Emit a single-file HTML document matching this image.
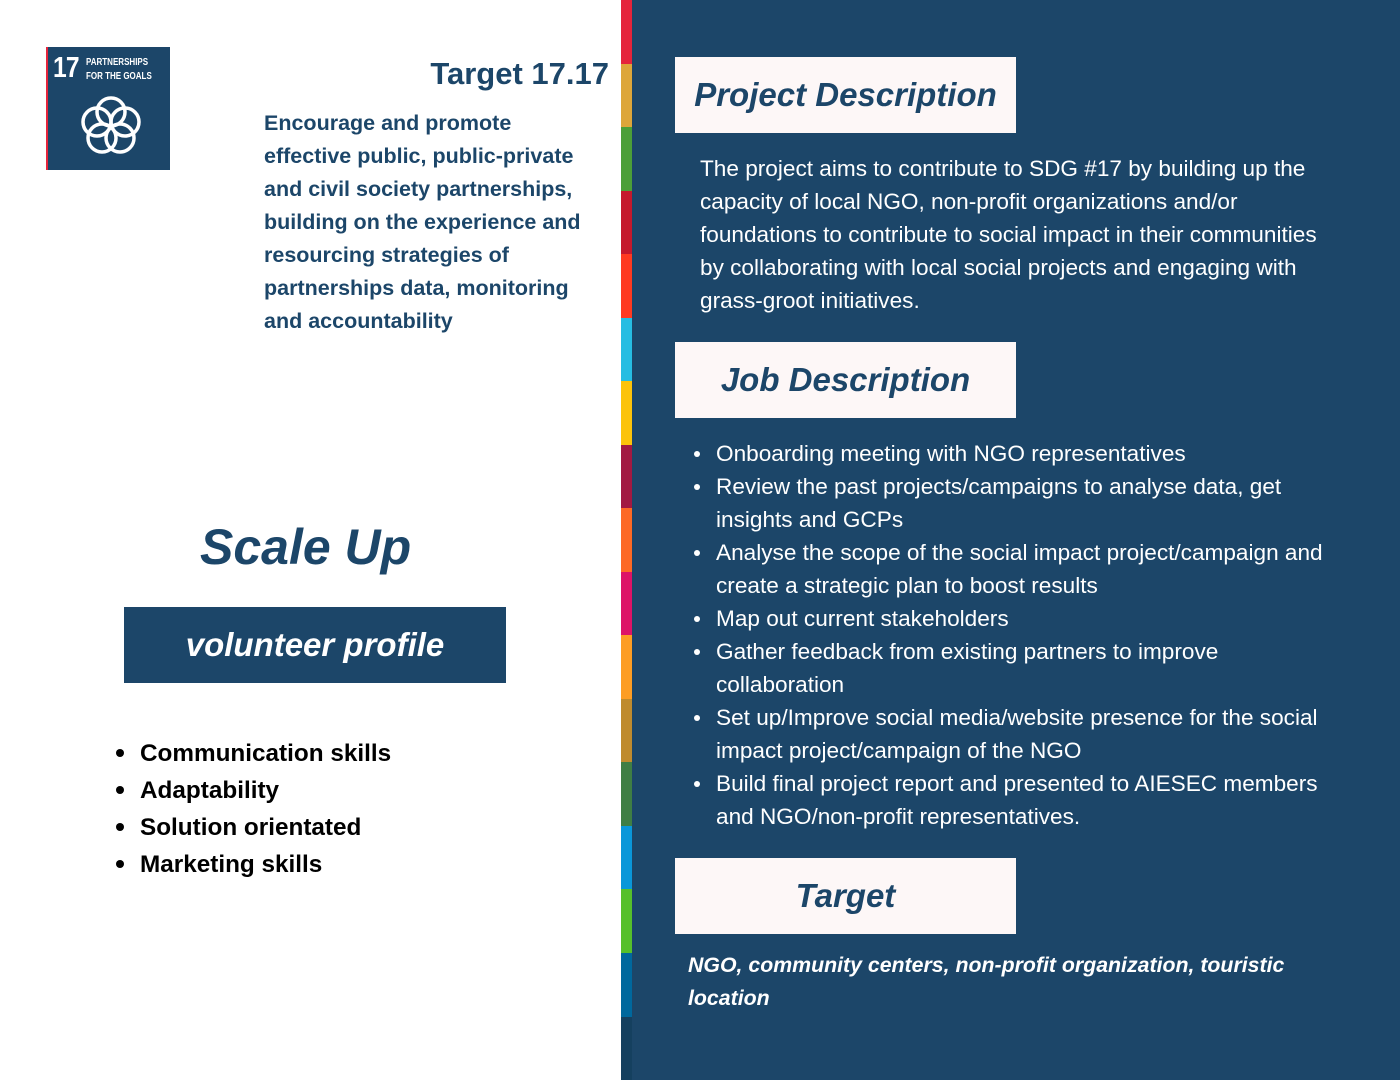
<!DOCTYPE html>
<html><head><meta charset="utf-8"><style>
*{margin:0;padding:0;box-sizing:border-box}
body{width:1400px;height:1080px;position:relative;background:#fff;font-family:"Liberation Sans",sans-serif;overflow:hidden}
.abs{position:absolute}
.nw{white-space:nowrap}
#right{left:632px;top:0;width:768px;height:1080px;background:#1c4669}
.box{left:675px;width:341px;height:76px;background:#fdf7f7;color:#1c4669;font-weight:bold;font-style:italic;font-size:33px;display:flex;align-items:center;justify-content:center}
.rt{color:#fff;font-size:22.6px;line-height:33px}
ul.rb{list-style:none}
ul.rb li{position:relative;padding-left:22px}
ul.rb li::before{content:"";position:absolute;left:0;top:14px;width:6px;height:6px;border-radius:50%;background:#fff}
ul.lb{list-style:none}
ul.lb li{position:relative;padding-left:24px}
ul.lb li::before{content:"";position:absolute;left:0;top:14px;width:8px;height:8px;border-radius:50%;background:#000}
</style></head><body>
<div class="abs" id="logo" style="left:46px;top:47px;width:124px;height:123px;background:#1c4669;border-left:2px solid #e5243b">
 <div class="abs" style="left:5px;top:5px;color:#fff;font-weight:bold;font-size:29px;letter-spacing:-1px;transform:scaleX(.85);transform-origin:left">17</div>
 <div class="abs nw" style="left:38px;top:9px;color:#fff;font-weight:bold;font-size:10px;line-height:14px;transform:scaleX(.8);transform-origin:left">PARTNERSHIPS<br>FOR THE GOALS</div>
 <svg class="abs" style="left:30px;top:46px" width="66" height="66" viewBox="0 0 66 66" fill="none" stroke="#fff" stroke-width="3.5">
  <circle cx="33" cy="19" r="14"/><circle cx="47" cy="29" r="14"/><circle cx="42" cy="45" r="14"/><circle cx="24" cy="45" r="14"/><circle cx="19" cy="29" r="14"/>
 </svg>
</div>
<div class="abs nw" style="right:791px;top:56px;color:#1c4669;font-weight:bold;font-size:31px">Target 17.17</div>
<div class="abs nw" style="left:264px;top:107px;color:#1c4669;font-weight:bold;font-size:21.5px;line-height:33px">Encourage and promote<br>effective public, public-private<br>and civil society partnerships,<br>building on the experience and<br>resourcing strategies of<br>partnerships data, monitoring<br>and accountability</div>
<div class="abs nw" style="left:200px;top:518px;color:#1c4669;font-weight:bold;font-style:italic;font-size:50px">Scale Up</div>
<div class="abs" style="left:124px;top:607px;width:382px;height:76px;background:#1c4669;color:#fff;font-weight:bold;font-style:italic;font-size:33px;display:flex;align-items:center;justify-content:center">volunteer profile</div>
<ul class="abs lb nw" style="left:116px;top:735px;color:#000;font-weight:bold;font-size:24.3px;line-height:37px">
 <li>Communication skills</li>
 <li>Adaptability</li>
 <li>Solution orientated</li>
 <li>Marketing skills</li>
</ul>
<div class="abs" style="left:621px;top:0;width:11px;height:1080px;display:flex;flex-direction:column">
 <div style="flex:1;background:#e5243b"></div><div style="flex:1;background:#dda63a"></div><div style="flex:1;background:#4c9f38"></div><div style="flex:1;background:#c5192d"></div><div style="flex:1;background:#ff3a21"></div><div style="flex:1;background:#26bde2"></div><div style="flex:1;background:#fcc30b"></div><div style="flex:1;background:#a21942"></div><div style="flex:1;background:#fd6925"></div><div style="flex:1;background:#dd1367"></div><div style="flex:1;background:#fd9d24"></div><div style="flex:1;background:#bf8b2e"></div><div style="flex:1;background:#3f7e44"></div><div style="flex:1;background:#0a97d9"></div><div style="flex:1;background:#56c02b"></div><div style="flex:1;background:#00689d"></div><div style="flex:1;background:#15405f"></div>
</div>
<div class="abs" id="right"></div>
<div class="abs box" style="top:57px">Project Description</div>
<div class="abs rt nw" style="left:700px;top:152px">The project aims to contribute to SDG #17 by building up the<br>capacity of local NGO, non-profit organizations and/or<br>foundations to contribute to social impact in their communities<br>by collaborating with local social projects and engaging with<br>grass-groot initiatives.</div>
<div class="abs box" style="top:342px">Job Description</div>
<ul class="abs rt rb nw" style="left:694px;top:437px">
 <li>Onboarding meeting with NGO representatives</li>
 <li>Review the past projects/campaigns to analyse data, get<br>insights and GCPs</li>
 <li>Analyse the scope of the social impact project/campaign and<br>create a strategic plan to boost results</li>
 <li>Map out current stakeholders</li>
 <li>Gather feedback from existing partners to improve<br>collaboration</li>
 <li>Set up/Improve social media/website presence for the social<br>impact project/campaign of the NGO</li>
 <li>Build final project report and presented to AIESEC members<br>and NGO/non-profit representatives.</li>
</ul>
<div class="abs box" style="top:858px">Target</div>
<div class="abs nw" style="left:688px;top:949px;color:#fff;font-weight:bold;font-style:italic;font-size:21.3px;line-height:33px">NGO, community centers, non-profit organization, touristic<br>location</div>
</body></html>
